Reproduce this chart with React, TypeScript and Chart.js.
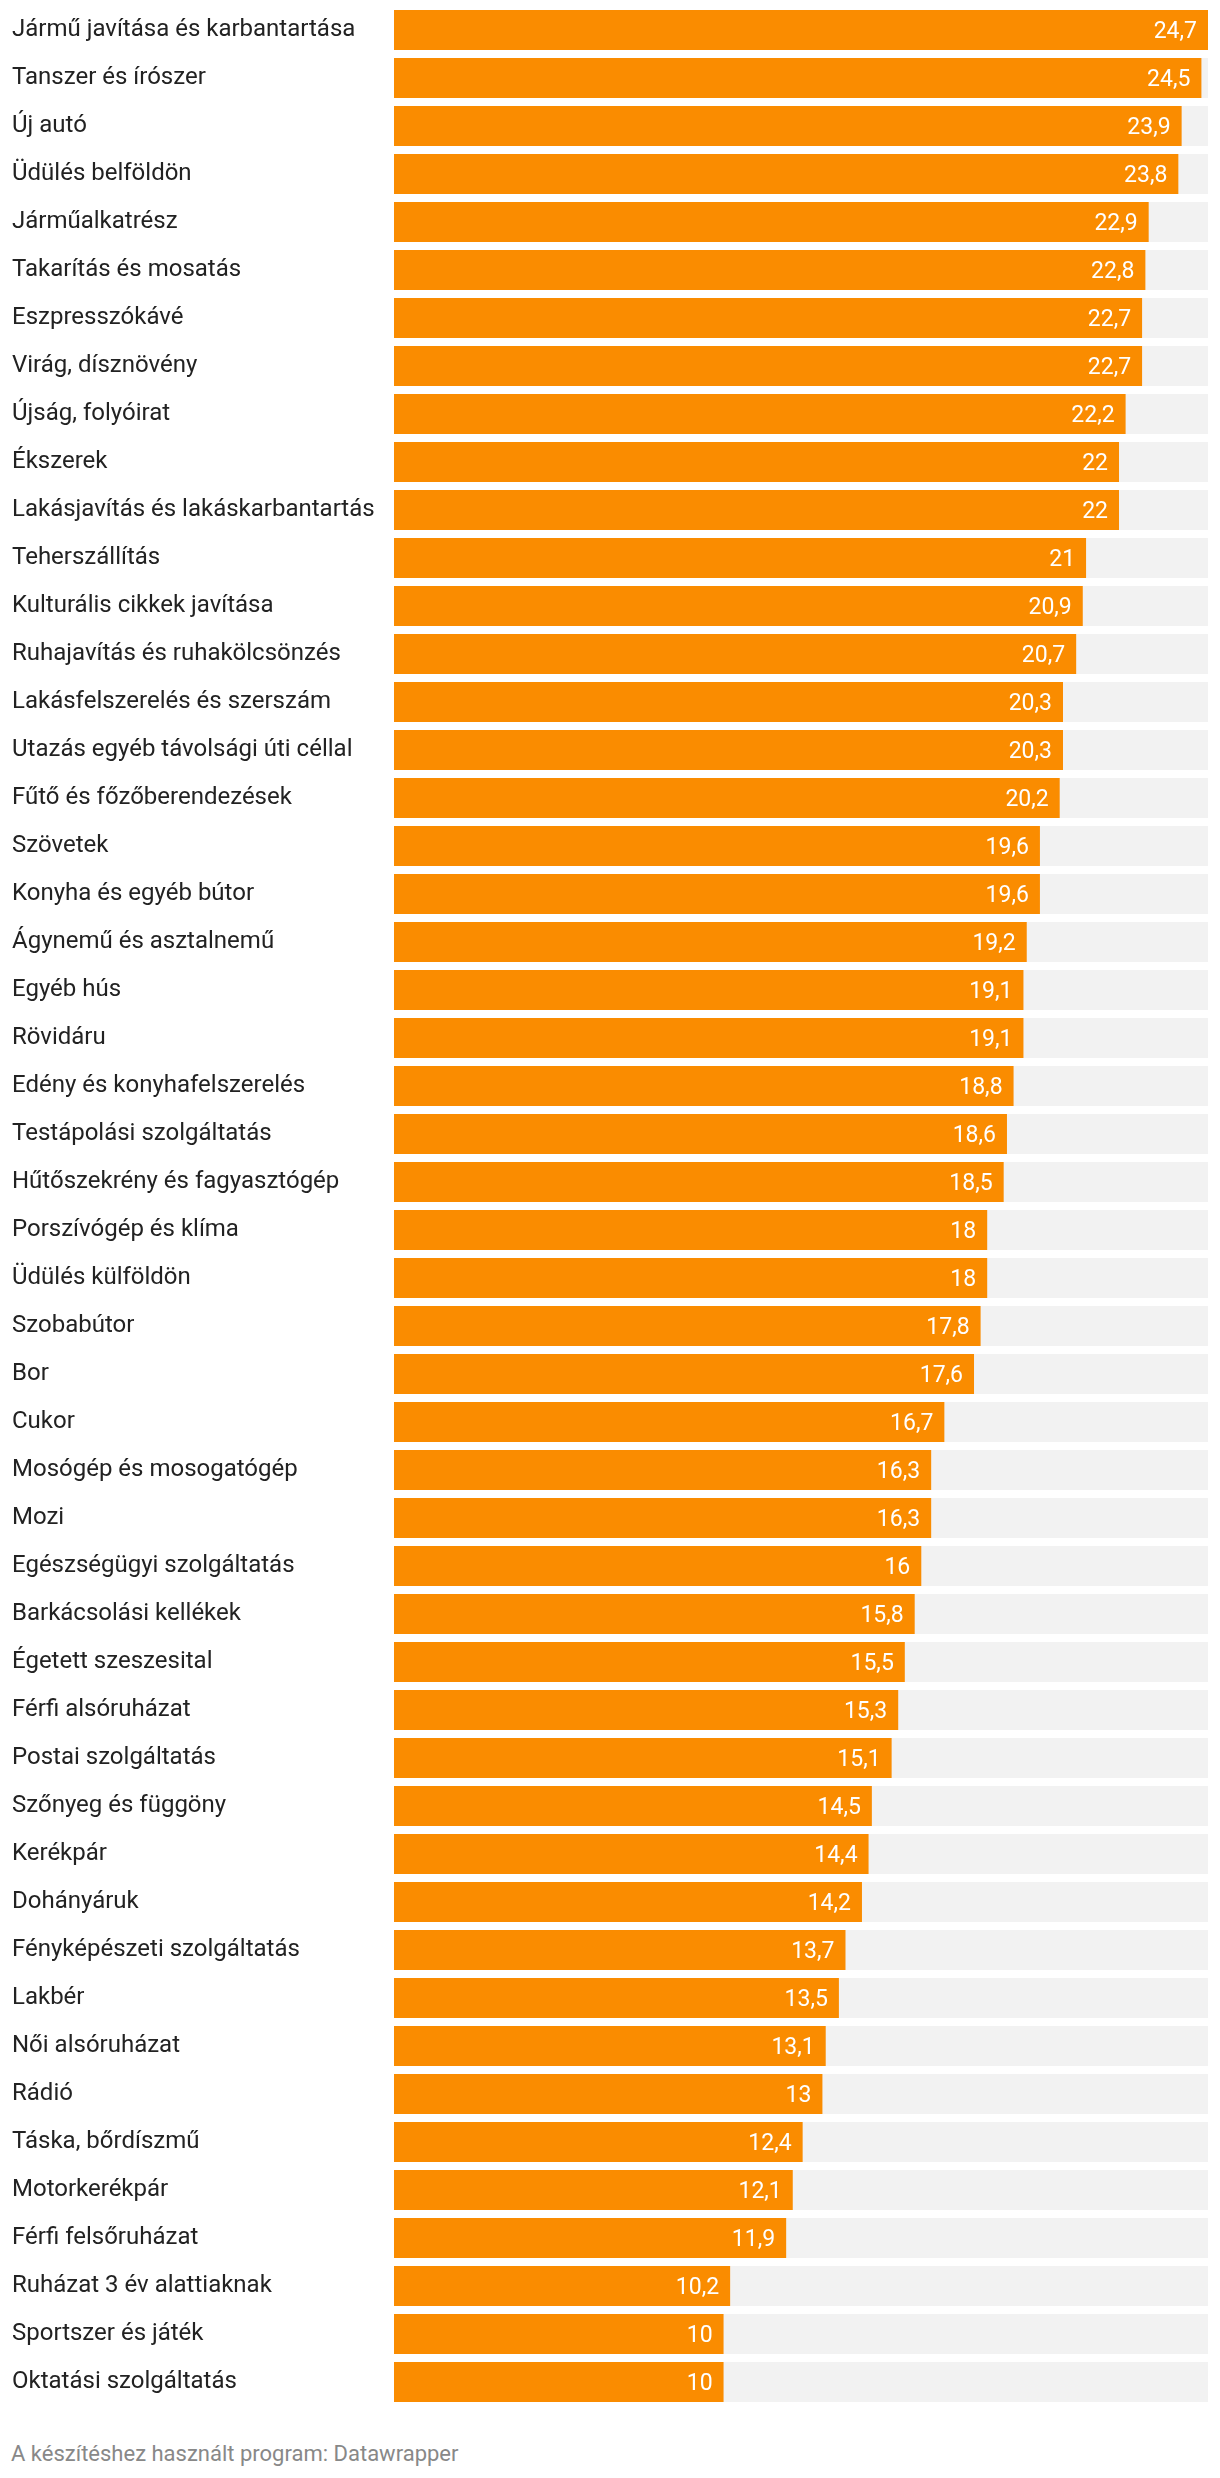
import React, { useEffect, useRef } from "react";
import { Chart, registerables } from "chart.js";

Chart.register(...registerables);

const categories: string[] = [
  "Jármű javítása és karbantartása",
  "Tanszer és írószer",
  "Új autó",
  "Üdülés belföldön",
  "Járműalkatrész",
  "Takarítás és mosatás",
  "Eszpresszókávé",
  "Virág, dísznövény",
  "Újság, folyóirat",
  "Ékszerek",
  "Lakásjavítás és lakáskarbantartás",
  "Teherszállítás",
  "Kulturális cikkek javítása",
  "Ruhajavítás és ruhakölcsönzés",
  "Lakásfelszerelés és szerszám",
  "Utazás egyéb távolsági úti céllal",
  "Fűtő és főzőberendezések",
  "Szövetek",
  "Konyha és egyéb bútor",
  "Ágynemű és asztalnemű",
  "Egyéb hús",
  "Rövidáru",
  "Edény és konyhafelszerelés",
  "Testápolási szolgáltatás",
  "Hűtőszekrény és fagyasztógép",
  "Porszívógép és klíma",
  "Üdülés külföldön",
  "Szobabútor",
  "Bor",
  "Cukor",
  "Mosógép és mosogatógép",
  "Mozi",
  "Egészségügyi szolgáltatás",
  "Barkácsolási kellékek",
  "Égetett szeszesital",
  "Férfi alsóruházat",
  "Postai szolgáltatás",
  "Szőnyeg és függöny",
  "Kerékpár",
  "Dohányáruk",
  "Fényképészeti szolgáltatás",
  "Lakbér",
  "Női alsóruházat",
  "Rádió",
  "Táska, bőrdíszmű",
  "Motorkerékpár",
  "Férfi felsőruházat",
  "Ruházat 3 év alattiaknak",
  "Sportszer és játék",
  "Oktatási szolgáltatás",
];

const values: number[] = [
  24.7, 24.5, 23.9, 23.8, 22.9, 22.8, 22.7, 22.7, 22.2, 22, 22, 21, 20.9, 20.7,
  20.3, 20.3, 20.2, 19.6, 19.6, 19.2, 19.1, 19.1, 18.8, 18.6, 18.5, 18, 18,
  17.8, 17.6, 16.7, 16.3, 16.3, 16, 15.8, 15.5, 15.3, 15.1, 14.5, 14.4, 14.2,
  13.7, 13.5, 13.1, 13, 12.4, 12.1, 11.9, 10.2, 10, 10,
];

const X_MAX = 24.7;
const footerText = "A készítéshez használt program: Datawrapper";

const ORANGE = "#fa8c00";
const TRACK = "#f2f2f2";
const FONT = "Roboto, 'Noto Sans', sans-serif";

export default function App() {
  const ref = useRef<HTMLCanvasElement | null>(null);

  useEffect(() => {
    document.body.style.margin = "0";
    const canvas = ref.current;
    if (!canvas) return;

    const valueLabels = {
      id: "valueLabels",
      afterDatasetsDraw(chart: any) {
        const ctx = chart.ctx;
        const meta = chart.getDatasetMeta(0);
        ctx.save();
        ctx.fillStyle = "#ffffff";
        ctx.font = `400 23px ${FONT}`;
        ctx.textAlign = "right";
        ctx.textBaseline = "alphabetic";
        meta.data.forEach((bar: any, i: number) => {
          const txt = String(values[i]).replace(".", ",");
          ctx.fillText(txt, bar.x - 11, bar.y + 8);
        });
        ctx.restore();
      },
    };

    const chart = new Chart(canvas, {
      type: "bar",
      data: {
        labels: categories,
        datasets: [
          {
            data: values,
            backgroundColor: ORANGE,
            order: 0,
            grouped: false,
            categoryPercentage: 1,
            barPercentage: 40 / 48,
          } as any,
          {
            data: values.map(() => X_MAX),
            backgroundColor: TRACK,
            order: 1,
            grouped: false,
            categoryPercentage: 1,
            barPercentage: 40 / 48,
          } as any,
        ],
      },
      options: {
        indexAxis: "y",
        animation: false,
        responsive: false,
        devicePixelRatio: 1,
        layout: { padding: { left: 12, right: 12, top: 6, bottom: 4 } },
        plugins: {
          legend: { display: false },
          tooltip: { enabled: false },
        },
        scales: {
          x: {
            display: false,
            min: 0,
            max: X_MAX,
          },
          y: {
            grid: { display: false },
            border: { display: false },
            afterFit: (scale: any) => {
              scale.width = 394 - 12;
              scale.paddingTop = 0;
              scale.paddingBottom = 0;
            },
            ticks: {
              crossAlign: "far",
              color: "#222222",
              padding: 0,
              autoSkip: false,
              font: { family: FONT, size: 24, weight: "400" as any },
            },
          },
        },
      },
      plugins: [valueLabels],
    });

    return () => chart.destroy();
  }, []);

  return (
    <div style={{ position: "relative", width: 1220, height: 2478, background: "#fff" }}>
      <canvas
        ref={ref}
        width={1220}
        height={2410}
        style={{ position: "absolute", left: 0, top: 0, width: 1220, height: 2410 }}
      />
      <div
        style={{
          position: "absolute",
          left: 11,
          top: 2441,
          fontFamily: FONT,
          fontSize: 22,
          lineHeight: "26px",
          color: "#888888",
          whiteSpace: "nowrap",
        }}
      >
        {footerText}
      </div>
    </div>
  );
}
